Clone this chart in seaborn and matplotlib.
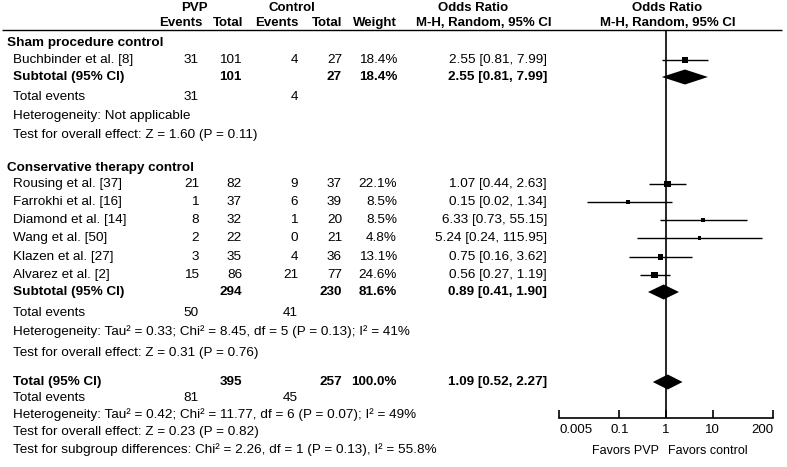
import matplotlib
matplotlib.use("Agg")
import matplotlib.pyplot as plt
import seaborn as sns
import pandas as pd
from matplotlib.ticker import FixedLocator, FixedFormatter, NullLocator

# ---------------- data ----------------
groups = ["Sham procedure control", "Conservative therapy control"]
studies = ["Buchbinder et al. [8]", "Rousing et al. [37]", "Farrokhi et al. [16]",
           "Diamond et al. [14]", "Wang et al. [50]", "Klazen et al. [27]", "Alvarez et al. [2]"]
study_group = [0, 1, 1, 1, 1, 1, 1]
pvp_events = [31, 21, 1, 8, 2, 3, 15]
pvp_total = [101, 82, 37, 32, 22, 35, 86]
ctrl_events = [4, 9, 6, 1, 0, 4, 21]
ctrl_total = [27, 37, 39, 20, 21, 36, 77]
weights = [18.4, 22.1, 8.5, 8.5, 4.8, 13.1, 24.6]
odds = [2.55, 1.07, 0.15, 6.33, 5.24, 0.75, 0.56]
ci_low = [0.81, 0.44, 0.02, 0.73, 0.24, 0.16, 0.27]
ci_high = [7.99, 2.63, 1.34, 55.15, 115.95, 3.62, 1.19]

sub_pvp_total = [101, 294]
sub_ctrl_total = [27, 230]
sub_weight = [18.4, 81.6]
sub_or = [2.55, 0.89]
sub_low = [0.81, 0.41]
sub_high = [7.99, 1.90]
sub_pvp_events = [31, 50]
sub_ctrl_events = [4, 41]
sub_heterogeneity = ["Heterogeneity: Not applicable",
                     "Heterogeneity: Tau² = 0.33; Chi² = 8.45, df = 5 (P = 0.13); I² = 41%"]
sub_effect = ["Test for overall effect: Z = 1.60 (P = 0.11)",
              "Test for overall effect: Z = 0.31 (P = 0.76)"]

total_pvp_total, total_ctrl_total = 395, 257
total_weight = 100.0
total_or, total_low, total_high = 1.09, 0.52, 2.27
total_pvp_events, total_ctrl_events = 81, 45
total_lines = ["Heterogeneity: Tau² = 0.42; Chi² = 11.77, df = 6 (P = 0.07); I² = 49%",
               "Test for overall effect: Z = 0.23 (P = 0.82)",
               "Test for subgroup differences: Chi² = 2.26, df = 1 (P = 0.13), I² = 55.8%"]

xticks = [0.005, 0.1, 1, 10, 200]
xtick_labels = ["0.005", "0.1", "1", "10", "200"]

# ---------------- layout ----------------
sns.set_theme(style="white")
plt.rcParams['font.family'] = ['Liberation Sans', 'DejaVu Sans']
FS = 9.7
W, H = 787, 467
fig = plt.figure(figsize=(W / 100, H / 100), dpi=100)
ax_t = fig.add_axes([0, 0, 1, 1])
ax_t.set_xlim(0, W)
ax_t.set_ylim(H, 0)
ax_t.axis('off')

x_forest_left, x_forest_right = 559, 773
ax_f = fig.add_axes([x_forest_left / W, 0, (x_forest_right - x_forest_left) / W, 1])
ax_f.patch.set_alpha(0)

# row positions (pixels from top)
group_y = [43, 168]
study_y = [60, 184, 202, 220, 238, 257, 275]
sub_y = [77, 292]
sub_events_y = [97, 313]
sub_het_y = [116, 332]
sub_eff_y = [135, 353]
total_y = 382
total_events_y = 398
total_lines_y = [415, 432, 450]
axis_y = 418
header_line_y = 30

# column right edges
c_pe, c_pt, c_ce, c_ct, c_w, c_or = 199, 242, 298, 342, 397, 547
x_group, x_row = 7, 13


def txt(x, y, s, ha='left', bold=False, size=FS):
    ax_t.text(x, y, s, ha=ha, va='center', fontsize=size, color='black',
              fontweight='bold' if bold else 'normal')


# headers
HS = 9.5
txt(194, 8, "PVP", ha='center', bold=True, size=HS)
txt(292, 8, "Control", ha='center', bold=True, size=HS)
txt(473, 8, "Odds Ratio", ha='center', bold=True, size=HS)
txt(667, 8, "Odds Ratio", ha='center', bold=True, size=HS)
txt(c_pe + 3, 23, "Events", ha='right', bold=True, size=HS)
txt(c_pt + 1, 23, "Total", ha='right', bold=True, size=HS)
txt(c_ce + 1, 23, "Events", ha='right', bold=True, size=HS)
txt(c_ct, 23, "Total", ha='right', bold=True, size=HS)
txt(c_w, 23, "Weight", ha='right', bold=True, size=HS)
txt(484, 23, "M-H, Random, 95% CI", ha='center', bold=True, size=HS)
txt(668, 23, "M-H, Random, 95% CI", ha='center', bold=True, size=HS)
ax_t.hlines(header_line_y, 2, 782, color='black', lw=1)

# groups
for g, name in enumerate(groups):
    txt(x_group, group_y[g], name, bold=True)
    txt(x_row, sub_y[g], "Subtotal (95% CI)", bold=True)
    txt(c_pt, sub_y[g], str(sub_pvp_total[g]), ha='right', bold=True)
    txt(c_ct, sub_y[g], str(sub_ctrl_total[g]), ha='right', bold=True)
    txt(c_w, sub_y[g], f"{sub_weight[g]:.1f}%", ha='right', bold=True)
    txt(c_or, sub_y[g], f"{sub_or[g]:.2f} [{sub_low[g]:.2f}, {sub_high[g]:.2f}]", ha='right', bold=True)
    txt(x_row, sub_events_y[g], "Total events")
    txt(c_pe, sub_events_y[g], str(sub_pvp_events[g]), ha='right')
    txt(c_ce, sub_events_y[g], str(sub_ctrl_events[g]), ha='right')
    txt(x_row, sub_het_y[g], sub_heterogeneity[g])
    txt(x_row, sub_eff_y[g], sub_effect[g])

for i, s in enumerate(studies):
    y = study_y[i]
    txt(x_row, y, s)
    txt(c_pe, y, str(pvp_events[i]), ha='right')
    txt(c_pt, y, str(pvp_total[i]), ha='right')
    txt(c_ce, y, str(ctrl_events[i]), ha='right')
    txt(c_ct, y, str(ctrl_total[i]), ha='right')
    txt(c_w, y, f"{weights[i]:.1f}%", ha='right')
    txt(c_or, y, f"{odds[i]:.2f} [{ci_low[i]:.2f}, {ci_high[i]:.2f}]", ha='right')

# overall
txt(x_row, total_y, "Total (95% CI)", bold=True)
txt(c_pt, total_y, str(total_pvp_total), ha='right', bold=True)
txt(c_ct, total_y, str(total_ctrl_total), ha='right', bold=True)
txt(c_w, total_y, f"{total_weight:.1f}%", ha='right', bold=True)
txt(c_or, total_y, f"{total_or:.2f} [{total_low:.2f}, {total_high:.2f}]", ha='right', bold=True)
txt(x_row, total_events_y, "Total events")
txt(c_pe, total_events_y, str(total_pvp_events), ha='right')
txt(c_ce, total_events_y, str(total_ctrl_events), ha='right')
for line, y in zip(total_lines, total_lines_y):
    txt(x_row, y, line)

txt(659, 451, "Favors PVP", ha='right', size=9)
txt(668, 451, "Favors control", ha='left', size=9)

# ---------------- forest plot ----------------
ax_f.set_xscale('log')
ax_f.set_xlim(xticks[0], xticks[-1])
ax_f.set_ylim(H, 0)

df = pd.DataFrame({"or": odds, "lo": ci_low, "hi": ci_high, "w": weights, "y": study_y})
ax_f.hlines(df["y"], df["lo"], df["hi"], color='black', lw=1)
sns.scatterplot(data=df, x="or", y="y", size="w", size_norm=(0, max(weights)),
                sizes=(0, max(weights) * 1.0), marker='s', color='black',
                edgecolor='none', linewidth=0, legend=False, ax=ax_f, zorder=3)

dh = 7.5
for g in range(len(groups)):
    y = sub_y[g]
    ax_f.fill([sub_low[g], sub_or[g], sub_high[g], sub_or[g]], [y, y - dh, y, y + dh],
              color='black', lw=0, zorder=3)
ax_f.fill([total_low, total_or, total_high, total_or],
          [total_y, total_y - dh, total_y, total_y + dh], color='black', lw=0, zorder=3)

ax_f.vlines(1, header_line_y, axis_y, color='black', lw=1.2)

for side in ['left', 'right', 'top']:
    ax_f.spines[side].set_visible(False)
ax_f.spines['bottom'].set_position(('data', axis_y))
ax_f.spines['bottom'].set_color('black')
ax_f.spines['bottom'].set_linewidth(1.2)
ax_f.xaxis.set_major_locator(FixedLocator(xticks))
ax_f.xaxis.set_major_formatter(FixedFormatter(xtick_labels))
ax_f.xaxis.set_minor_locator(NullLocator())
ax_f.tick_params(axis='x', which='major', bottom=True, labelbottom=True, direction='in',
                 length=6, width=1.2, color='black', labelcolor='black', labelsize=9.5, pad=4)
ax_f.set_yticks([])
ax_f.set_xlabel("")
ax_f.set_ylabel("")

major_ticks = ax_f.xaxis.get_major_ticks()
major_ticks[0].label1.set_horizontalalignment('left')
major_ticks[-1].label1.set_horizontalalignment('right')

fig.savefig("out.png", dpi=100)
